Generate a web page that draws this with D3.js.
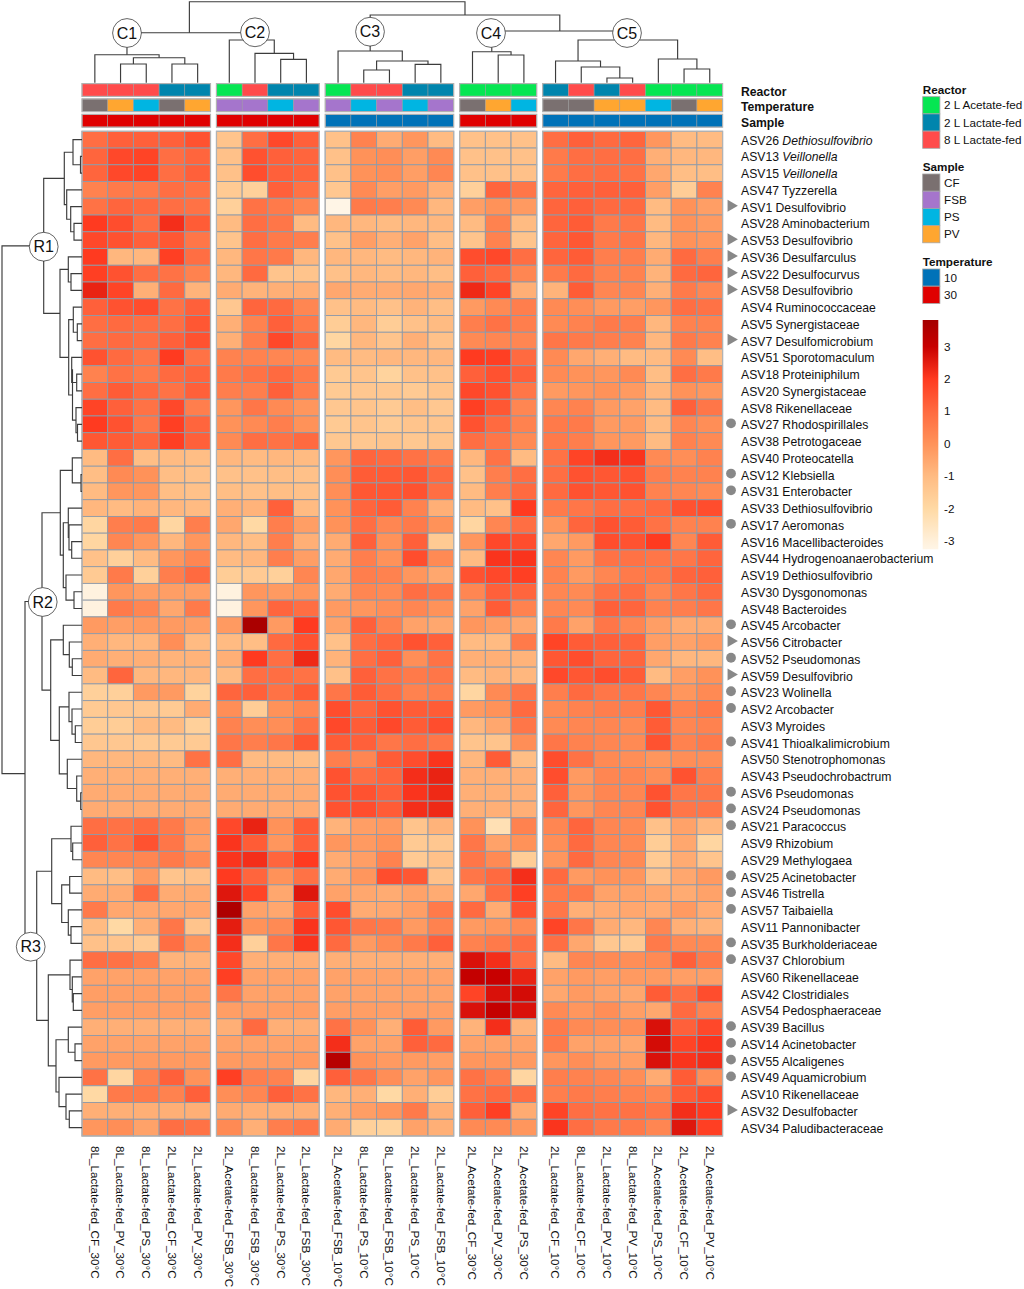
<!DOCTYPE html>
<html><head><meta charset="utf-8">
<script src="https://cdn.jsdelivr.net/npm/d3@7/dist/d3.min.js"></script>
<style>html,body{margin:0;padding:0;background:#fff}svg{display:block}text{font-family:"Liberation Sans",Arial,sans-serif;fill:#111}</style>
</head><body><svg id="c" width="1024" height="1289"></svg>
<script>
const columns=["8L_Lactate-fed_CF_30°C","8L_Lactate-fed_PV_30°C","8L_Lactate-fed_PS_30°C","2L_Lactate-fed_CF_30°C","2L_Lactate-fed_PV_30°C",
"2L_Acetate-fed_FSB_30°C","8L_Lactate-fed_FSB_30°C","2L_Lactate-fed_PS_30°C","2L_Lactate-fed_FSB_30°C",
"2L_Acetate-fed_FSB_10°C","8L_Lactate-fed_PS_10°C","8L_Lactate-fed_FSB_10°C","2L_Lactate-fed_PS_10°C","2L_Lactate-fed_FSB_10°C",
"2L_Acetate-fed_CF_30°C","2L_Acetate-fed_PV_30°C","2L_Acetate-fed_PS_30°C",
"2L_Lactate-fed_CF_10°C","8L_Lactate-fed_CF_10°C","2L_Lactate-fed_PV_10°C","8L_Lactate-fed_PV_10°C","2L_Acetate-fed_PS_10°C","2L_Acetate-fed_CF_10°C","2L_Acetate-fed_PV_10°C"];
const groupSizes=[5,4,5,3,7];
const rowNames=["ASV26","ASV13","ASV15","ASV47","ASV1","ASV28","ASV53","ASV36","ASV22","ASV58","ASV4","ASV5","ASV7","ASV51","ASV18","ASV20","ASV8","ASV27","ASV38","ASV40","ASV12","ASV31","ASV33","ASV17","ASV16","ASV44","ASV19","ASV30","ASV48","ASV45","ASV56","ASV52","ASV59","ASV23","ASV2","ASV3","ASV41","ASV50","ASV43","ASV6","ASV24","ASV21","ASV9","ASV29","ASV25","ASV46","ASV57","ASV11","ASV35","ASV37","ASV60","ASV42","ASV54","ASV39","ASV14","ASV55","ASV49","ASV10","ASV32","ASV34"];
const taxa=["Dethiosulfovibrio","Veillonella","Veillonella","Tyzzerella","Desulfovibrio","Aminobacterium","Desulfovibrio","Desulfarculus","Desulfocurvus","Desulfovibrio","Ruminococcaceae","Synergistaceae","Desulfomicrobium","Sporotomaculum","Proteiniphilum","Synergistaceae","Rikenellaceae","Rhodospirillales","Petrotogaceae","Proteocatella","Klebsiella","Enterobacter","Dethiosulfovibrio","Aeromonas","Macellibacteroides","Hydrogenoanaerobacterium","Dethiosulfovibrio","Dysgonomonas","Bacteroides","Arcobacter","Citrobacter","Pseudomonas","Desulfovibrio","Wolinella","Arcobacter","Myroides","Thioalkalimicrobium","Stenotrophomonas","Pseudochrobactrum","Pseudomonas","Pseudomonas","Paracoccus","Rhizobium","Methylogaea","Acinetobacter","Tistrella","Taibaiella","Pannonibacter","Burkholderiaceae","Chlorobium","Rikenellaceae","Clostridiales","Pedosphaeraceae","Bacillus","Acinetobacter","Alcaligenes","Aquamicrobium","Rikenellaceae","Desulfobacter","Paludibacteraceae"];
const italicRows=["ASV26","ASV13","ASV15"];
const triangleRows=["ASV1","ASV53","ASV36","ASV22","ASV58","ASV7","ASV56","ASV59","ASV32"];
const circleRows=["ASV27","ASV12","ASV31","ASV17","ASV45","ASV52","ASV23","ASV2","ASV41","ASV6","ASV24","ASV21","ASV25","ASV46","ASV57","ASV35","ASV37","ASV39","ASV14","ASV55","ASV49"];
const values=[
[.9,1.2,1.2,1.2,1.5, -1.3,.9,1.7,1.2, -1.2,.4,-.6,-.1,-1, -1.2,-1.2,-1.2, .9,1.2,1,1.1,-.1,-1,-1],
[1.1,1.7,1.8,.9,1.1, -1.2,1.5,1.2,1.1, -1.2,0,.1,-.3,.2, -1.2,-1.2,-1.2, .6,.9,.9,.9,-.7,-.9,-.9],
[1.1,1.7,1.8,.9,1.2, -1.2,1.6,1.2,1.1, -1.2,0,.1,-.3,.3, -1.2,-1.2,-1.2, .6,.9,.9,.8,-.5,-1.1,-1.1],
[.4,.6,.6,.9,.8, -1.5,-1.7,1.2,.8, -1.4,.2,-.3,-.2,-.7, -1.7,1.1,.7, 1.1,1.2,1.2,1.2,-.3,-1.6,.4],
[.8,1.1,1,.9,.8, -1.7,.8,.6,.3, -3.3,.6,.5,.2,-.9, -.3,0,-.2, 1.1,1.2,1,1,-1,0,-.3],
[2,1.6,.9,2.2,1.3, -1,.9,.7,-1, -.9,-.9,-1,-.9,-.9, -1,.4,-1, 1.1,1.3,.6,.7,-1,0,-.2],
[1.7,1.5,1.2,1.4,.7, -1.3,.9,.6,.5, -1.2,-.3,-.7,-.4,-1.1, -1.3,.4,-1.3, 1.1,1.4,.6,.7,-.9,0,-.1],
[2,-.9,-.9,1.9,.9, -.9,.7,.6,-.9, -.9,-.9,-1,-.9,-.8, 1.6,1.7,.9, 1.1,1.3,.5,.5,-.6,1,.5],
[1.9,1.5,.9,.8,.4, -.9,1,-1.3,-1.3, -1.2,-.9,-1,-.9,-1.1, 1.2,1,.3, .6,1,.4,.4,-.8,1,1.1],
[2.4,1.8,-.7,1,-.8, -.6,-.8,-.7,-.7, -.5,-.6,-.6,-.5,-.6, 2.3,1.8,-.7, -.8,1.3,.3,.3,-.7,.6,.3],
[1.2,1.5,1.6,.8,1.2, -1.4,1.1,1,.3, -1.2,-1,-1.2,-.8,-1.1, -.2,.2,.5, .2,.1,-.2,-.3,-.1,.9,.8],
[.9,1,.9,.9,1.4, -.7,.4,1.2,.6, -1.6,-.9,-1.6,-1.2,-1, .5,.8,.5, .2,.4,.6,.5,-.9,.4,.4],
[.9,1,.9,1.2,1.5, -.7,.5,1.7,1, -1.9,-.9,-1.3,-.7,-1.2, .2,.3,.3, .7,.6,.5,.4,-.9,.6,.4],
[1.5,1,.7,2,.8, .4,.4,.3,.2, -1,-1,-.9,-.9,-.9, 2,1.9,1, .2,-.5,-.7,-1,-1,.2,-1.1],
[.4,.8,.6,1,1.1, .6,.8,1,.6, -1.5,-1.3,-1.8,-1.2,-1.2, 1.2,1.5,1.2, .2,0,-.1,.2,-1.1,.9,.6],
[.9,1.3,1,.8,1.2, .5,.5,1.2,.5, -1.5,-1.4,-1.4,-1.5,-1.3, 1.7,1.5,.7, -.2,-.1,0,-.2,-.9,0,-.1],
[1.8,1.2,.8,1.7,.5, -.1,.7,.2,-.1, -1.4,-1.3,-1.5,-1.1,-1.4, 1.9,1.4,.3, .3,.4,-.2,-.4,-1,1.2,.7],
[2,1.5,.7,1.9,1.1, 0,.2,.5,0, -1.5,-1.3,-1.5,-1.3,-1.3, 1.5,1,.4, .6,.6,-.2,-.2,-1,.3,.1],
[1.4,1.3,1.1,1.9,1.2, .2,.9,.8,1, -1.4,-1.4,-1.3,-1.4,-1.3, .9,.7,.2, .6,.5,-.1,-.2,-1,.4,.2],
[-1,.9,-1.1,-1,-1.1, -.9,-1,-.9,-1, -.1,1.1,1,.8,.6, -.9,.8,-1, .8,1.8,2.2,2.1,.2,.1,.4],
[-1.1,.2,0,-1.1,-1.2, -1.2,-1.2,-1.1,-1.2, .1,1.3,1.3,1.4,1, -1.2,.5,.9, .9,1.5,1.4,1.5,.5,.4,.4],
[-1,-.1,-.1,-1.1,-1.2, -1.1,-1.2,-1.1,-1.2, .1,1.4,1.4,1.5,.9, -1,.5,1, 1,1.5,1.4,1.5,.4,.3,.2],
[-.9,-1,-.8,-.9,-1, -.7,-.8,1.2,-1, 0,1.1,1.3,.4,-.7, -1,-1.2,2, .6,.7,.9,.9,1,1.5,1.6],
[-1.9,.5,.6,-1.9,.5, -.5,-2,.5,-.3, 0,.9,.3,.6,0, -1.9,.3,.9, -.1,1.1,1.5,1.3,.8,.4,.4],
[-1.9,.3,-.1,-.9,-.1, -.9,-1.1,.5,-.7, -.6,1.2,0,1.2,-1.5, -.1,1.7,1.6, -.5,-.2,1.6,1.5,2,.3,1.3],
[-1.2,-1.7,-1,-.1,.3, -1,-.9,.5,-.3, -.6,.5,0,1.6,.2, -1,2.1,2.1, .3,-.2,.8,.8,.7,.7,1.1],
[-1.5,.6,-1.7,.5,1, -1.6,-1.5,-1.7,.3, -.5,.5,.4,-.1,-.5, 1.5,1.7,1.9, .4,-.2,.3,.6,.6,1.1,1.2],
[-3.1,-.1,-.3,-.3,-.3, -3.1,-.1,-.2,-.1, -.6,.3,.2,.9,.7, .3,1.2,1.1, .3,.2,.8,.9,.3,.7,1],
[-3.1,.6,.3,-.5,.6, -3.1,-.1,1.1,.9, -.2,-.1,.1,.3,0, -.4,1.3,.4, .3,.2,1.2,1.1,.4,.5,.7],
[-.2,-.3,-.2,-.2,-.3, -.2,3.7,-.2,2, -.4,1.2,.4,-.4,-.5, -.1,-.3,-.5, .6,-.4,.7,.3,-.3,-.6,-.6],
[-.7,-.9,-.9,.1,-1, -1,-1.1,1,1.5, -1.2,.9,1.1,1.5,1.2, -1,-1,.6, 1.8,1.3,1.2,1.1,-.3,-.4,-.2],
[-.6,-.7,-.7,-.8,-.8, -.7,2,.9,2.3, -.8,.9,1.2,.1,.8, -.7,-.7,-.8, 1.4,1.6,1.1,1.1,-.5,-.9,-.9],
[-1,1.1,-.9,-.9,-.9, -1,.9,.9,.8, -1.2,1.2,.8,.6,.7, -1,-.8,-.9, 1.7,1.4,1.6,1.3,-1,-.3,0],
[-1.7,-1.7,-.2,-.2,-1.8, 1.1,1.2,.8,1.3, .7,1.3,.9,.4,.5, -1.9,.2,.7, .5,1,.7,.7,.3,-.1,.2],
[-1.5,-1.4,-1.4,-1.5,-.6, .1,-1.6,0,.3, 1.6,1.1,1.5,1.3,1.3, -.2,0,1, .2,.4,.5,.5,1.4,.4,.6],
[-1.6,-1.6,-1,-1,-1.7, .4,.1,.1,.8, 1.7,1.3,1.7,1.3,1.6, -.9,-.5,.7, .2,.3,.3,.2,1.3,.3,.4],
[-1.4,-1.4,-1.5,-1.5,-1.5, .7,.5,.7,1.4, 1.3,1.2,.7,.9,.7, -1.3,-1.3,.1, .7,.4,.3,.2,1.5,.4,.6],
[-.9,-.9,-.9,-1,.8, .9,-1,-1,-1.1, .5,.3,1.3,1.6,2.1, -.9,1.3,-1.1, 1.6,.8,.2,.1,-.1,.1,.1],
[-.7,-.7,-.7,-.7,-.7, -.7,-.7,-.7,-.7, 1.5,.9,1.1,2.2,2.4, -.7,-.7,-.7, 1.6,-.2,.3,.3,.1,1.5,.5],
[-.6,-.6,-.6,-.6,-.6, -.6,-.6,-.6,-.6, 1.5,1.5,1.2,2.1,2.3, -.7,-.7,-.7, 1.2,-.1,.3,.3,1.5,.7,.7],
[-.6,-.6,-.6,-.6,-.6, -.6,-.6,-.6,-.6, 1.5,1.6,1.3,2.2,2.3, -.7,-.7,-.7, 1.1,-.1,.3,.3,1.5,.7,.7],
[.9,.8,1,.6,-.2, 1.7,2.4,0,1.3, -.8,-.3,-.2,-1.3,-.8, 0,-2.3,.4, .3,1.1,.3,.2,-1.2,-.4,-.9],
[1.2,.8,1.5,.7,-.3, 2.1,1.3,-.1,1.2, -.1,-.2,0,-1.5,-1.4, .7,-.4,0, .1,1,.3,.2,-1.6,-.5,-1.9],
[.3,.3,.3,.6,.2, 2.1,2.2,1.1,2, -.6,-.3,.4,-1.5,-1.2, .7,.2,-1.6, -.1,1,.3,.2,-1.5,-.6,-1.3],
[-1,-1.1,-.2,-1.3,-1.2, 2,1.1,0,.8, -.6,-.1,1.6,1.4,-1.2, .7,1,2.2, 1,-.2,0,-.1,-1.2,-.5,-.2],
[-.6,-.6,1,-.6,-.6, 2.6,1.8,-.5,2.6, -.4,-.5,-.6,-.4,-.6, -.5,.9,1.9, .6,.6,-.4,-.4,-.5,-.6,-.4],
[.6,-.5,-.5,-.5,-.5, 3.6,-.4,-.5,1.3, 1.6,-.6,-.5,-.3,.6, 1,-.6,1.5, .7,-.7,-.6,-.5,-.6,-.2,-.6],
[-1,-2,-.7,.7,-1.3, 2.5,0,.2,2.1, 1.4,.7,.6,-.2,.4, -.2,-.1,.2, 1.8,.7,-.6,-.9,.3,-.7,-.8],
[-1.2,-1.3,-1.5,.9,-.1, 2.2,-1.7,.7,2.1, 1,-.2,.2,.6,1.2, .4,.6,.9, .9,-.5,-1.4,-1.5,.6,.2,.2],
[.9,.8,.5,-.8,-.8, 1.7,-.7,-.7,-.7, -.7,-.7,-.7,-.7,-.7, 2.7,2.2,.9, -1,.3,.2,.1,.2,1.2,.6],
[-.4,-.4,-.4,-.4,-.4, 1.9,-.4,-.4,-.4, -.4,-.4,-.4,-.4,-.4, 3.1,3,2.4, -.4,-.2,-.3,-.2,-.2,-.3,-.3],
[-.3,-.3,-.3,-.3,-.3, .7,-.4,-.4,-.4, -.4,-.4,-.4,-.4,-.4, 1.8,2.7,2.8, -.5,-.2,-.4,-.5,1.3,.9,1.6],
[-.3,-.3,-.3,-.3,-.3, -.3,-.3,-.3,-.3, -.3,-.3,-.3,-.3,-.3, 2.7,3.1,2.7, .2,-.1,.1,-.3,-.5,1,.4],
[-.7,-.7,-.7,-.7,-.7, -.7,1,-.7,-.7, .8,0,-.7,1.3,-.2, -.8,2.2,-.8, .6,.2,.1,.1,2.7,1.2,1.7],
[-.4,-.4,-.4,-.4,-.4, -.4,-.4,-.4,-.4, 2.2,-.4,-.4,1.2,1, -.4,-.4,-.4, .6,-.4,-.4,-.5,2.8,1.8,2.1],
[-.2,-.2,-.2,-.2,-.2, -.2,-.2,-.2,-.2, 3.4,0,-.2,-.2,-.3, -.1,-.1,-.2, -.1,.1,-.2,-.3,2.7,2.1,2.2],
[.8,-1.9,.4,1.2,0, 1.9,.5,.4,-1.9, 1.2,.7,.1,-.4,-.1, .8,.5,-1.9, .5,.4,.3,.1,-.6,1.3,.1],
[-2,.6,.6,.4,1.2, .1,.3,1.2,.8, -.9,-.7,-2,-.7,-1.6, .8,1,.9, .5,.6,.5,.4,.3,1.3,1.6],
[-.7,-.7,-.7,-.7,-.7, -.6,-.7,-.7,-.7, -.7,-.3,-.1,.6,-.7, 1.2,1.9,-.6, 1.8,.9,.8,.8,.7,2.2,2],
[-.1,.1,-.4,.9,.8, .2,-.7,.5,.7, -.6,-1.7,-1.8,-.4,-.7, .2,.2,-.1, 2.1,.9,.6,.6,.3,2.6,1.9]
];
// dendrograms: [height, childA, childB]; a plain number is a leaf index
const rowTree=[80,
 [38.3,
  [17.7,[9,0,[1.5,1,2]],[15.3,3,[11.3,4,[8,5,6]]]],
  [22,[13.7,7,[11,8,9]],[13.3,[8.7,10,[4.7,11,12]],[9.5,[10.3,13,[5.3,14,15]],[6,16,[4.5,17,18]]]]]],
 [57,
  [40,
   [21.7,[9.7,19,[1,20,21]],[18.7,[13.7,22,[13,23,[10.3,24,25]]],[16,26,[8,27,28]]]],
   [31.3,[18.7,29,[12.7,30,[9.7,31,32]]],[22.7,[13,33,[10,34,[6.7,35,36]]],[14.7,37,[5.3,38,[1.3,39,40]]]]]],
  [45.3,
   [30.3,[11,41,[9.3,42,43]],[20.3,[12.3,44,45],[13.7,46,[11,47,48]]]],
   [33.7,[12,49,[9.7,50,[8.7,51,52]]],[26,[13.7,53,[7,54,55]],[23,56,[16,57,[12.7,58,59]]]]]]]];
const colTree=[81,
 [50,[28,0,[25,[18.7,1,2],[18.7,3,4]]],[42.7,5,[29.4,6,[23.4,7,8]]]],
 [67.7,[31.7,9,[21.7,[12.7,10,11],[18.4,12,13]]],
  [51.7,[31,14,[27.7,15,16]],[42.7,[21.7,17,[15.7,18,[4.7,19,20]]],[23.7,21,[13.7,22,23]]]]]];
const clusterLabels=[["C1",127,33],["C2",255,32.3],["C3",370,31.7],["C4",491,33],["C5",627,33]];
const rowClusterLabels=[["R1",43.7,246.7],["R2",42.7,602],["R3",30.7,946.7]];
const colorStops=[-3.26,-3,-2,-1,0,1,2,3,3.82];
const colorRange=["#fff5e6","#fff0da","#ffd9a4","#ffbb82","#ff9259","#ff6a40","#ff3a20","#c80000","#a50000"];
const reactorNames=["2 L Acetate-fed","2 L Lactate-fed","8 L Lactate-fed"];
const reactorKeys=["2L_Acetate-fed","2L_Lactate-fed","8L_Lactate-fed"];
const reactorColors=["#06e652","#0085ad","#ff4b4b"];
const sampleNames=["CF","FSB","PS","PV"];
const sampleColors=["#7a7070","#a575cc","#00b5e2","#ffa630"];
const tempNames=["10","30"];
const tempColors=["#0072b8","#e00000"];
const colorTicks=[-3,-2,-1,0,1,2,3];

const svg=d3.select("#c");
const FONT=11.7, ROWFONT=12.2, GAP=.2315, LEFT=82, RIGHT=722.6, TOP=131.3, BOTTOM=1136;
const BORDER="#8f9aa8", EDGE="#b2b2b2", LINE="#3c3c3c", MARK="#888";
const groupOf=[];groupSizes.forEach((n,g)=>d3.range(n).forEach(()=>groupOf.push(g)));
const x=d3.scaleLinear().domain([0,columns.length+GAP*(groupSizes.length-1)]).range([LEFT,RIGHT]);
const colX=i=>x(i+groupOf[i]*GAP), cw=x(1)-x(0);
const y=d3.scaleBand().domain(d3.range(rowNames.length)).range([TOP,BOTTOM]);
const color=d3.scaleLinear().domain(colorStops).range(colorRange).clamp(true);
const groupSpans=[];{let s=0;groupSizes.forEach(n=>{groupSpans.push([s,n]);s+=n;});}

// heatmap
const heat=svg.append("g");
values.forEach((row,r)=>row.forEach((v,c)=>heat.append("rect")
 .attr("x",colX(c)).attr("y",y(r)).attr("width",cw).attr("height",y.bandwidth())
 .attr("fill",color(v)).attr("stroke",BORDER).attr("stroke-width",.9)));
groupSpans.forEach(([s,n])=>heat.append("rect").attr("x",colX(s)).attr("y",TOP).attr("width",cw*n).attr("height",BOTTOM-TOP)
 .attr("fill","none").attr("stroke",EDGE).attr("stroke-width",1.3));

// annotation bars
const parts=columns.map(c=>c.split("_"));
const rScale=d3.scaleOrdinal(reactorKeys,reactorColors),sScale=d3.scaleOrdinal(sampleNames,sampleColors),tScale=d3.scaleOrdinal(tempNames,tempColors);
const annots=[
 {y0:83.6,get:p=>rScale(p[0]+"_"+p[1])},
 {y0:98.9,get:p=>sScale(p[2])},
 {y0:114.3,get:p=>tScale(p[3].replace("°C",""))}];
const annH=12.8;
annots.forEach(a=>{
 parts.forEach((p,i)=>svg.append("rect").attr("x",colX(i)).attr("y",a.y0).attr("width",cw).attr("height",annH).attr("fill",a.get(p)).attr("stroke","#9a9a9a").attr("stroke-width",.5));
 groupSpans.forEach(([s,n])=>svg.append("rect").attr("x",colX(s)).attr("y",a.y0).attr("width",cw*n).attr("height",annH).attr("fill","none").attr("stroke",EDGE).attr("stroke-width",1.2));
});
[["Reactor",91.5],["Temperature",107],["Sample",122.3]].forEach(([t,yy])=>svg.append("text").text(t).attr("x",741).attr("y",yy).attr("dy",".35em").attr("font-size",ROWFONT).attr("font-weight","bold"));

// dendrograms
function layoutTree(tree,leafPos,hScale){
 const root=d3.hierarchy(tree,d=>Array.isArray(d)?d.slice(1):null);
 root.eachAfter(n=>{
  if(n.children){n.pos=d3.mean(n.children,c=>c.pos);n.h=hScale(n.data[0]);}
  else{n.pos=leafPos(n.data);n.h=hScale(0);}
 });
 return root;
}
const rowH=d3.scaleLinear().domain([0,80]).range([LEFT,2]);
const colH=d3.scaleLinear().domain([0,81]).range([82.7,1.7]);
const dg=svg.append("g").attr("fill","none").attr("stroke",LINE).attr("stroke-width",1.15);
const rRoot=layoutTree(rowTree,i=>y(i)+y.bandwidth()/2,rowH);
rRoot.descendants().filter(n=>n.children).forEach(n=>{
 const [a,b]=n.children;
 dg.append("path").attr("d",`M${a.h},${a.pos}H${n.h}V${b.pos}H${b.h}`);
});
const cRoot=layoutTree(colTree,i=>colX(i)+cw/2,colH);
cRoot.descendants().filter(n=>n.children).forEach(n=>{
 const [a,b]=n.children;
 dg.append("path").attr("d",`M${a.pos},${a.h}V${n.h}H${b.pos}V${b.h}`);
});
function badge(t,cx,cy){
 svg.append("circle").attr("cx",cx).attr("cy",cy).attr("r",14.4).attr("fill","#fff").attr("stroke","#222").attr("stroke-width",.7);
 svg.append("text").text(t).attr("x",cx).attr("y",cy).attr("dy",".36em").attr("text-anchor","middle").attr("font-size",16);
}
clusterLabels.concat(rowClusterLabels).forEach(([t,cx,cy])=>badge(t,cx,cy));

// row labels + markers
rowNames.forEach((n,r)=>{
 const cy=y(r)+y.bandwidth()/2;
 const t=svg.append("text").attr("x",741).attr("y",cy+.8).attr("dy",".35em").attr("font-size",ROWFONT);
 t.append("tspan").text(n+" ");
 t.append("tspan").text(taxa[r]).attr("font-style",italicRows.includes(n)?"italic":"normal");
 if(triangleRows.includes(n)) svg.append("path").attr("d",d3.symbol(d3.symbolTriangle,62)()).attr("fill",MARK)
   .attr("transform",`translate(731,${cy-1}) rotate(90)`);
 if(circleRows.includes(n)) svg.append("circle").attr("cx",731).attr("cy",cy-1).attr("r",4.9).attr("fill",MARK);
});

// column labels
columns.forEach((c,i)=>svg.append("text").text(c).attr("font-size",FONT).attr("dy",".35em")
 .attr("transform",`translate(${colX(i)+cw/2},1146) rotate(90)`));

// legends
const LX=922.7,LW=17.2,LH=17.2;
function legend(title,names,cols,titleY,top){
 svg.append("text").text(title).attr("x",LX).attr("y",titleY).attr("dy",".35em").attr("font-size",FONT).attr("font-weight","bold");
 names.forEach((n,i)=>{
  svg.append("rect").attr("x",LX).attr("y",top+i*LH).attr("width",LW).attr("height",LH).attr("fill",cols[i]).attr("stroke","#a5a5a5").attr("stroke-width",.8);
  svg.append("text").text(n).attr("x",944).attr("y",top+(i+.5)*LH).attr("dy",".35em").attr("font-size",FONT);
 });
}
legend("Reactor",reactorNames,reactorColors,89.5,96.7);
legend("Sample",sampleNames,sampleColors,166.7,174);
legend("Temperature",tempNames,tempColors,261.5,269);

const cb=d3.scaleLinear().domain([colorStops[0],colorStops[colorStops.length-1]]).range([549.3,320]);
const defs=svg.append("defs").append("linearGradient").attr("id","g").attr("x1",0).attr("x2",0).attr("y1",1).attr("y2",0);
colorStops.forEach((s,i)=>defs.append("stop").attr("offset",(s-colorStops[0])/(colorStops[colorStops.length-1]-colorStops[0])).attr("stop-color",colorRange[i]));
svg.append("rect").attr("x",LX).attr("y",320).attr("width",15.6).attr("height",229.3).attr("fill","url(#g)");
colorTicks.forEach(t=>svg.append("text").text(t).attr("x",944).attr("y",cb(t)).attr("dy",".35em").attr("font-size",FONT));
</script></body></html>
